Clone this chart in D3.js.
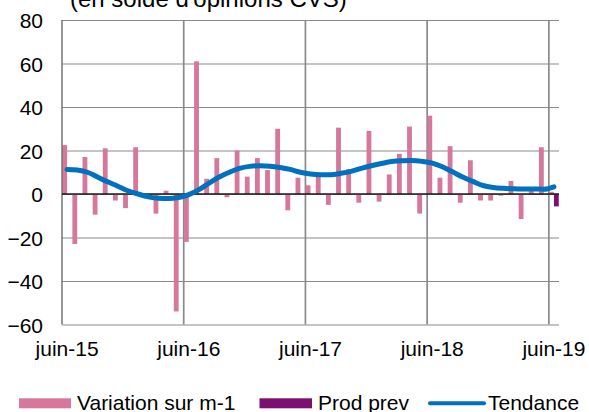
<!DOCTYPE html>
<html>
<head>
<meta charset="utf-8">
<script src="https://cdn.jsdelivr.net/npm/d3@7"></script>
<style>
  body { margin: 0; background: #fff; }
  svg text { font-family: "Liberation Sans", Arial, sans-serif; fill: #000; }
</style>
</head>
<body>
<div id="chart"></div>
<script>
// Months (category axis), one bar cluster per month
var months = [
  "2015-06","2015-07","2015-08","2015-09","2015-10","2015-11","2015-12",
  "2016-01","2016-02","2016-03","2016-04","2016-05","2016-06","2016-07","2016-08","2016-09","2016-10","2016-11","2016-12",
  "2017-01","2017-02","2017-03","2017-04","2017-05","2017-06","2017-07","2017-08","2017-09","2017-10","2017-11","2017-12",
  "2018-01","2018-02","2018-03","2018-04","2018-05","2018-06","2018-07","2018-08","2018-09","2018-10","2018-11","2018-12",
  "2019-01","2019-02","2019-03","2019-04","2019-05","2019-06"
];

// Variation sur m-1
var variation = [
  22.5, -23, 17, -9.5, 21, -3, -6.5,
  21.5, -1, -9, 1.5, -54, -22, 61, 7, 16.5, -1.5, 20, 8,
  16.5, 11, 30, -7.5, 7.5, 4, 8.5, -5, 30.5, 11.5, -4, 29,
  -3.5, 9, 18.5, 31, -9, 36, 7.5, 22, -4, 15.5, -3, -3,
  -0.8, 6, -11.5, 1.5, 21.5, 1
];

// Prod prev (only the last month)
var prodPrev = [
  null, null, null, null, null, null, null,
  null, null, null, null, null, null, null, null, null, null, null, null,
  null, null, null, null, null, null, null, null, null, null, null, null,
  null, null, null, null, null, null, null, null, null, null, null, null,
  null, null, null, null, null, -5.7
];

// Tendance
var tendance = [
  11.3, 11.0, 10.0, 7.8, 5.6, 3.6, 1.5,
  0, -1.3, -2.0, -2.1, -1.6, -0.3, 2.0, 5.0, 7.8, 10.0, 11.8, 12.7,
  13.0, 12.8, 12.2, 11.3, 10.0, 9.2, 8.9, 8.9, 9.5, 10.4, 11.8, 13.0,
  14.0, 14.9, 15.3, 15.4, 15.0, 14.2, 12.5, 10.2, 7.8, 5.8, 3.9, 3.0,
  2.6, 2.4, 2.3, 2.3, 2.2, 3.3
];

// Tick labels
var yTicks = [-60, -40, -20, 0, 20, 40, 60, 80];
var xTickMonths = ["2015-06", "2016-06", "2017-06", "2018-06", "2019-06"];
var xTickLabels = ["juin-15", "juin-16", "juin-17", "juin-18", "juin-19"];
var yearLines = ["2016-06", "2017-06", "2018-06", "2019-06"];

var seriesNames = ["Variation sur m-1", "Prod prev", "Tendance"];
var colors = { var: "#d5789b", prev: "#7b1070", trend: "#0070c0" };

var W = 589, H = 412;
var fontSize = "21px";
// plot area (note: "top" is reserved on window, so use plot* names)
var plotLeft = 62, plotRight = 559, plotTop = 20, plotBottom = 324.5;

var svg = d3.select("#chart").append("svg")
  .attr("width", W)
  .attr("height", H);

// Title (partly cut off at top)
svg.append("text")
  .attr("x", 70)
  .attr("y", 6.7)
  .style("font-size", "24px")
  .text("(en solde d'opinions CVS)");

var x = d3.scaleBand().domain(months).range([plotLeft, plotRight]).padding(0);
var sub = d3.scaleBand().domain(["var", "prev"]).range([0, x.bandwidth()]).paddingOuter(0.05);
var y = d3.scaleLinear().domain([-60, 80]).range([plotBottom, plotTop]);

// Horizontal grid + y labels
var yAxis = svg.append("g")
  .attr("transform", "translate(" + plotLeft + ",0)")
  .call(d3.axisLeft(y).tickValues(yTicks).tickSize(-(plotRight - plotLeft)).tickPadding(19).tickFormat(d3.format("d")));
yAxis.select(".domain").remove();
yAxis.selectAll(".tick line").attr("stroke", "#8a8a8a").attr("stroke-width", 1.2);
yAxis.selectAll(".tick text").style("font-size", fontSize).attr("dy", "0.36em");

// Vertical year lines
svg.append("g").selectAll("line")
  .data(yearLines)
  .enter().append("line")
  .attr("x1", function (d) { return x(d); })
  .attr("x2", function (d) { return x(d); })
  .attr("y1", plotTop)
  .attr("y2", plotBottom)
  .attr("stroke", "#8a8a8a")
  .attr("stroke-width", 1.7);

// Bars: variation
svg.append("g").selectAll("rect")
  .data(months.map(function (m, i) { return { m: m, v: variation[i] }; }))
  .enter().append("rect")
  .attr("x", function (d) { return x(d.m) + sub("var"); })
  .attr("width", sub.bandwidth())
  .attr("y", function (d) { return y(Math.max(0, d.v)); })
  .attr("height", function (d) { return Math.abs(y(d.v) - y(0)); })
  .attr("fill", colors.var);

// Bars: prod prev
svg.append("g").selectAll("rect")
  .data(months.map(function (m, i) { return { m: m, v: prodPrev[i] }; }).filter(function (d) { return d.v != null; }))
  .enter().append("rect")
  .attr("x", function (d) { return x(d.m) + sub("prev"); })
  .attr("width", sub.bandwidth())
  .attr("y", function (d) { return y(Math.max(0, d.v)); })
  .attr("height", function (d) { return Math.abs(y(d.v) - y(0)); })
  .attr("fill", colors.prev);

// Left axis line and zero line
svg.append("line")
  .attr("x1", plotLeft).attr("x2", plotLeft)
  .attr("y1", plotTop).attr("y2", plotBottom)
  .attr("stroke", "#606060").attr("stroke-width", 1.3);
svg.append("line")
  .attr("x1", plotLeft).attr("x2", plotRight)
  .attr("y1", y(0)).attr("y2", y(0))
  .attr("stroke", "#1a1a1a").attr("stroke-width", 1.3);

// Trend line
var line = d3.line()
  .x(function (d, i) { return x(months[i]) + x.bandwidth() / 2; })
  .y(function (d) { return y(d); })
  .curve(d3.curveMonotoneX);

svg.append("path")
  .datum(tendance)
  .attr("d", line)
  .attr("fill", "none")
  .attr("stroke", colors.trend)
  .attr("stroke-width", 5)
  .attr("stroke-linecap", "round")
  .attr("stroke-linejoin", "round");

// X axis labels
var xAxis = svg.append("g")
  .attr("transform", "translate(0," + plotBottom + ")")
  .call(d3.axisBottom(x).tickValues(xTickMonths).tickSize(0).tickPadding(16.6)
    .tickFormat(function (d) { return xTickLabels[xTickMonths.indexOf(d)]; }));
xAxis.select(".domain").remove();
xAxis.selectAll(".tick text").style("font-size", fontSize);

// Legend
var legend = svg.append("g");
legend.append("rect").attr("x", 19).attr("y", 398.3).attr("width", 52).attr("height", 10).attr("fill", colors.var);
legend.append("text").attr("x", 77).attr("y", 409.5).style("font-size", fontSize).text(seriesNames[0]);
legend.append("rect").attr("x", 259.5).attr("y", 398.3).attr("width", 52.5).attr("height", 10).attr("fill", colors.prev);
legend.append("text").attr("x", 318).attr("y", 409.5).style("font-size", fontSize).text(seriesNames[1]);
legend.append("line").attr("x1", 430).attr("x2", 484).attr("y1", 403.3).attr("y2", 403.3)
  .attr("stroke", colors.trend).attr("stroke-width", 4).attr("stroke-linecap", "round");
legend.append("text").attr("x", 488).attr("y", 409.5).style("font-size", fontSize).text(seriesNames[2]);
</script>
</body>
</html>
